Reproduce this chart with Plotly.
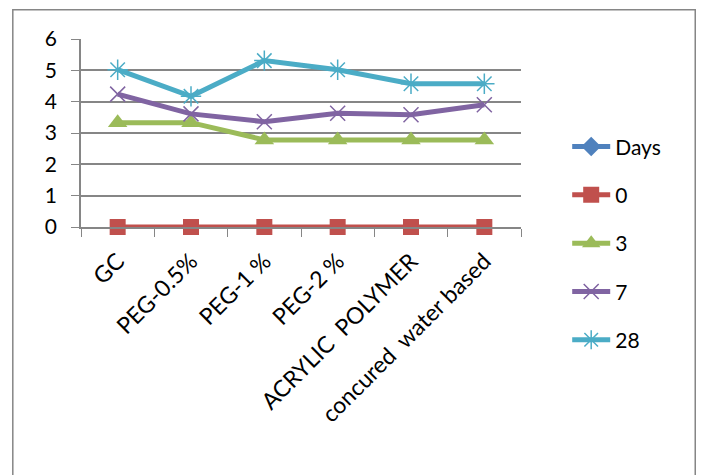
import plotly.graph_objects as go

categories = ["GC", "PEG-0.5%", "PEG-1 %", "PEG-2 %", "ACRYLIC  POLYMER", "concured  water based"]
days = [None, None, None, None, None, None]
day0 = [0, 0, 0, 0, 0, 0]
day3 = [3.33, 3.33, 2.78, 2.78, 2.78, 2.78]
day7 = [4.24, 3.61, 3.36, 3.63, 3.58, 3.90]
day28 = [5.02, 4.17, 5.31, 5.02, 4.57, 4.57]
yticks = [0, 1, 2, 3, 4, 5, 6]

series = [
    ("Days", days, "#4F81BD", dict(symbol="diamond", size=15)),
    ("0", day0, "#C0504D", dict(symbol="square", size=16)),
    ("3", day3, "#9BBB59", dict(symbol="triangle-up", size=17)),
    ("7", day7, "#8064A2", dict(symbol="x-thin-open", size=15, line=dict(width=1.5, color="#8064A2"))),
    ("28", day28, "#4BACC6", dict(symbol="asterisk-open", size=17, line=dict(width=1.5, color="#4BACC6"))),
]

fig = go.Figure()
for name, vals, color, mk in series:
    mk = dict(mk)
    mk["color"] = color
    fig.add_trace(go.Scatter(
        x=categories, y=vals, name=name, mode="lines+markers",
        line=dict(color=color, width=5), marker=mk,
        cliponaxis=False, legendgroup=name,
    ))

font = "Lato, Open Sans, sans-serif"
fig.update_layout(
    width=704, height=475,
    margin=dict(l=73, r=191, t=31, b=256),
    paper_bgcolor="white", plot_bgcolor="white",
    font=dict(family=font, size=20, color="black"),
    showlegend=True,
    legend=dict(x=1.105, y=0.535, xanchor="left", yanchor="top",
                font=dict(size=21), tracegroupgap=18, itemwidth=38,
                maxheight=400, bgcolor="rgba(0,0,0,0)"),
    xaxis=dict(type="category", tickangle=-45, showgrid=False, automargin=False,
               showline=True, linecolor="#868686", linewidth=1.5,
               ticks="outside", tickson="boundaries", ticklen=8, tickcolor="#868686",
               tickfont=dict(size=23), range=[-0.5, 5.5], ticklabelstandoff=10),
    yaxis=dict(range=[0, 6], tickvals=yticks, showgrid=True, gridcolor="#868686",
               gridwidth=1.5, showline=True, linecolor="#868686", linewidth=1.5,
               automargin=False,
               ticks="outside", ticklen=8, tickcolor="#868686", zeroline=False,
               tickfont=dict(size=21), ticklabelstandoff=10),
    shapes=[dict(type="rect", xref="paper", yref="paper",
                 x0=-0.155, x1=1.396, y0=-1.4, y1=1.155,
                 line=dict(color="#868686", width=1.5), fillcolor="rgba(0,0,0,0)",
                 layer="below")],
)

fig.write_html("out.html")
